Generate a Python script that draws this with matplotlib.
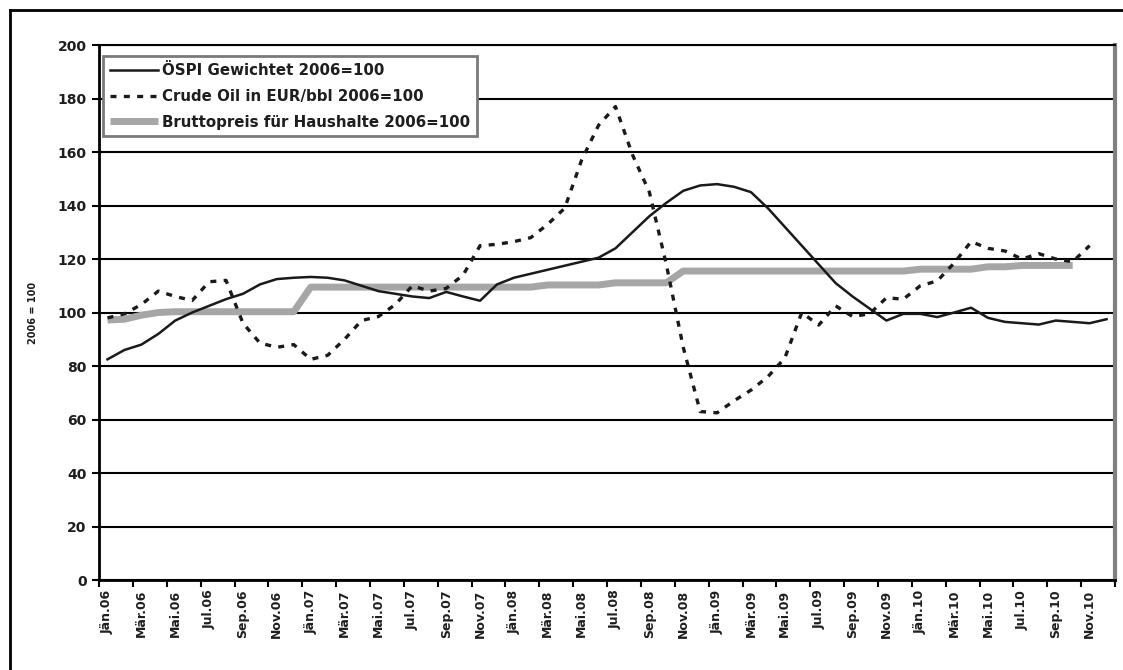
import matplotlib
matplotlib.use("Agg")
import matplotlib.pyplot as plt
from matplotlib.lines import Line2D
import numpy as np

# monthly series Jan 2006 .. Dec 2010
months = 60
tick_labels = [f"{m}.{y:02d}" for y in range(6, 11)
               for m in ["Jän", "Mär", "Mai", "Jul", "Sep", "Nov"]]

ospi = [82.5, 86, 88, 92, 97, 100, 102.5, 105, 107, 110.5, 112.5, 113,
        113.3, 113, 112, 110, 108, 107, 106, 105.4, 107.7, 106, 104.4, 110.5,
        113, 114.5, 116, 117.5, 119, 120.5, 124, 130, 136, 141, 145.5, 147.5,
        148, 147, 145, 139, 132, 125, 118, 111, 106, 101.5, 97, 99.5,
        99.5, 98.3, 100, 101.8, 98, 96.5, 96, 95.5, 97, 96.5, 96, 97.5]

crude = [98, 99.5, 103, 108, 106, 104.5, 111.5, 112, 96, 88.6, 87, 88,
         82.5, 84, 90, 97, 98.5, 103, 110, 108, 109, 114, 125, 125.5,
         126.5, 128, 133, 139, 157, 170, 177, 159, 145, 118, 87, 63,
         62.5, 67, 71, 76, 83, 100, 95.3, 102.5, 98.5, 99.5, 105.5, 105,
         110, 111.8, 118.5, 126.5, 124, 123, 120, 122, 120, 119, 125, np.nan]

brutto = [97.2, 97.5, 99, 100, 100.3, 100.3, 100.3, 100.3, 100.3, 100.3, 100.3, 100.3,
          109.5, 109.5, 109.5, 109.5, 109.5, 109.5, 109.5, 109.5, 109.5, 109.5, 109.5, 109.5,
          109.5, 109.5, 110.3, 110.3, 110.3, 110.3, 111.1, 111.1, 111.1, 111.1, 115.5, 115.5,
          115.5, 115.5, 115.5, 115.5, 115.5, 115.5, 115.5, 115.5, 115.5, 115.5, 115.5, 115.5,
          116.2, 116.2, 116.2, 116.2, 117.1, 117.1, 117.6, 117.6, 117.6, 117.6, np.nan, np.nan]

x = np.arange(months) + 0.5

plt.rcParams['font.family'] = ['DejaVu Sans']
txt = '#1e1e1e'

fig = plt.figure(figsize=(11.23, 6.70), dpi=100)
ax = fig.add_axes([0.0882, 0.1343, 0.9047, 0.7985])

ax.plot(x, brutto, color='#a6a6a6', lw=5, solid_capstyle='butt',
        label='Bruttopreis für Haushalte 2006=100', zorder=3)
ax.plot(x, ospi, color='#1a1a1a', lw=1.8, label='ÖSPI Gewichtet 2006=100', zorder=4)
ax.plot(x, crude, color='#1a1a1a', lw=2.4, linestyle=(0, (1.8, 2.2)),
        label='Crude Oil in EUR/bbl 2006=100', zorder=4)

ax.set_xlim(0, months)
ax.set_ylim(0, 200)
ax.set_yticks(np.arange(0, 201, 20))
ax.yaxis.grid(True, color='black', lw=1.5)
ax.set_axisbelow(True)

ax.set_xticks(np.arange(0, months + 1, 2))
ax.set_xticklabels([])
ax.set_xticks(np.arange(0, months, 2) + 0.5, minor=True)
ax.set_xticklabels(tick_labels, minor=True, rotation=90,
                   fontsize=9, fontweight='bold', color=txt)
ax.tick_params(axis='x', which='minor', length=0, pad=7)
ax.tick_params(axis='x', which='major', length=5, width=1.5, direction='out')
ax.tick_params(axis='y', length=5, width=1.5, direction='out', pad=4,
               labelsize=10, labelcolor=txt)
for t in ax.get_yticklabels():
    t.set_fontweight('bold')

ax.spines['left'].set_linewidth(2)
ax.spines['bottom'].set_linewidth(2)
ax.spines['top'].set_linewidth(1.5)
ax.spines['right'].set_color('#808080')
ax.spines['right'].set_linewidth(3)

ax.set_ylabel('2006 = 100', fontsize=7, fontweight='bold', color=txt, labelpad=14)

handles, labels = ax.get_legend_handles_labels()
order = [1, 2, 0]
leg = ax.legend([handles[i] for i in order], [labels[i] for i in order],
                loc='upper left', bbox_to_anchor=(0.004, 0.979), borderaxespad=0,
                fancybox=False, framealpha=1, edgecolor='#7a7a7a',
                prop={'size': 10.8, 'weight': 'bold'}, handlelength=3.2,
                handletextpad=0.3, labelspacing=0.72, borderpad=0.45)
leg.get_frame().set_linewidth(2)
for t in leg.get_texts():
    t.set_color(txt)

# outer frame
fig.add_artist(Line2D([0.009, 0.009], [0, 0.985], transform=fig.transFigure,
                      color='black', lw=2))
fig.add_artist(Line2D([0.009, 1.0], [0.985, 0.985], transform=fig.transFigure,
                      color='black', lw=2))

fig.savefig('out.png', dpi=100)
